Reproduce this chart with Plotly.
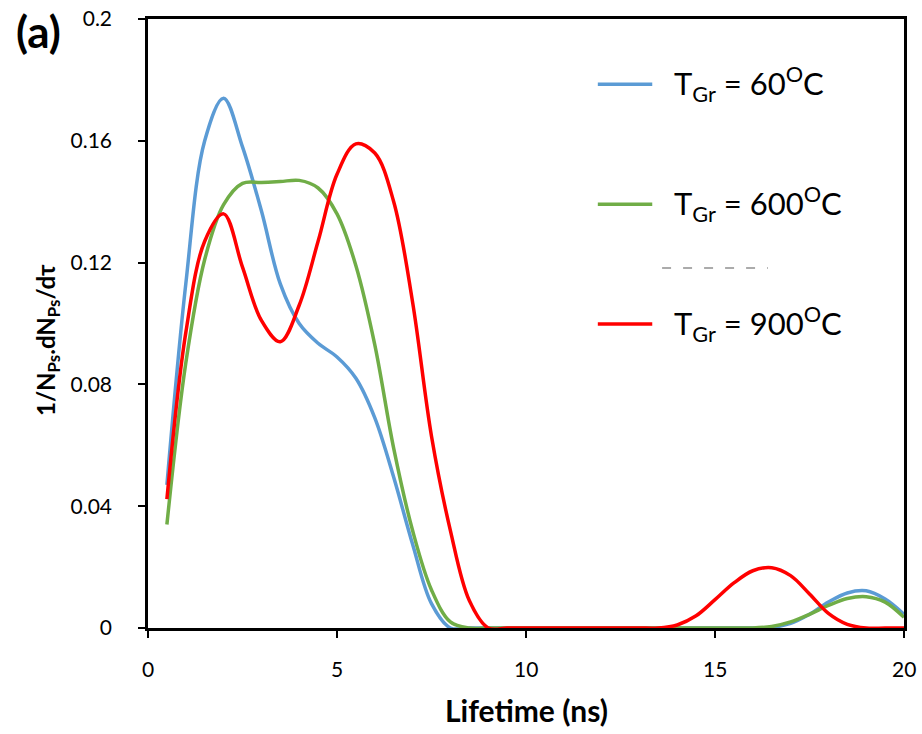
import plotly.graph_objects as go

# Lifetime grid (ns)
lifetime = [0.5, 1.0, 1.5, 2.0, 2.5, 3.0, 3.5, 4.0, 4.5, 5.0,
            5.5, 6.0, 6.5, 7.0, 7.5, 8.0, 8.5, 9.0, 9.5, 10.0,
            10.5, 11.0, 11.5, 12.0, 12.5, 13.0, 13.5, 14.0, 14.5, 15.0,
            15.5, 16.0, 16.5, 17.0, 17.5, 18.0, 18.5, 19.0, 19.5, 20.0]

# Normalised lifetime distributions 1/N_Ps dN_Ps/dtau
t60 = [0.047, 0.113, 0.160, 0.174, 0.158, 0.137, 0.113, 0.100, 0.0935, 0.089,
       0.082, 0.069, 0.0495, 0.0275, 0.008, 0.0, 0.0, 0.0, 0.0, 0.0,
       0.0, 0.0, 0.0, 0.0, 0.0, 0.0, 0.0, 0.0, 0.0, 0.0,
       0.0, 0.0, 0.0002, 0.0015, 0.0045, 0.0085, 0.0115, 0.0122, 0.0095, 0.0045]
t600 = [0.034, 0.087, 0.121, 0.139, 0.146, 0.1463, 0.1466, 0.147, 0.1445, 0.136,
        0.119, 0.093, 0.059, 0.032, 0.0125, 0.002, 0.0, 0.0, 0.0, 0.0,
        0.0, 0.0, 0.0, 0.0, 0.0, 0.0, 0.0, 0.0, 0.0, 0.0,
        0.0, 0.0, 0.0005, 0.002, 0.0045, 0.0074, 0.0097, 0.0103, 0.0085, 0.0035]
t900 = [0.0423, 0.097, 0.127, 0.136, 0.1185, 0.101, 0.094, 0.106, 0.127, 0.149,
        0.159, 0.156, 0.140, 0.107, 0.063, 0.032, 0.009, 0.0, 0.0, 0.0,
        0.0, 0.0, 0.0, 0.0, 0.0, 0.0, 0.0, 0.001, 0.004, 0.0093,
        0.0148, 0.0188, 0.0198, 0.0172, 0.0112, 0.0048, 0.0012, 0.0, 0.0, 0.0]

series = [t60, t600, t900]
names = ["T<sub>Gr</sub> = 60<sup>O</sup>C",
         "T<sub>Gr</sub> = 600<sup>O</sup>C",
         "T<sub>Gr</sub> = 900<sup>O</sup>C"]
colors = ["#5B9BD5", "#70AD47", "#FF0000"]

x_ticks = [0, 5, 10, 15, 20]
x_ticktext = ["0", "5", "10", "15", "20"]
y_ticks = [0, 0.04, 0.08, 0.12, 0.16, 0.2]
y_ticktext = ["0", "0.04", "0.08", "0.12", "0.16", "0.2"]

FONT = "Lato"

fig = go.Figure()
for ys, name, col in zip(series, names, colors):
    fig.add_trace(go.Scatter(x=lifetime, y=ys, mode="lines", name=name,
                             line=dict(color=col, width=3.5, shape="spline", smoothing=1.0),
                             showlegend=False))

# Hand-placed legend: sample line + label for each series
legend_y = [0.893, 0.696, 0.499]
for ly, name, col in zip(legend_y, names, colors):
    fig.add_shape(type="line", xref="paper", yref="paper",
                  x0=0.595, x1=0.667, y0=ly, y1=ly,
                  line=dict(color=col, width=3.5))
    fig.add_annotation(xref="paper", yref="paper", x=0.693, y=ly,
                       xanchor="left", yanchor="middle", showarrow=False,
                       text=name, font=dict(family=FONT, size=31, color="black"))

# faint dashed remnant between the 600 and 900 entries
fig.add_shape(type="line", xref="paper", yref="paper",
              x0=0.680, x1=0.820, y0=0.591, y1=0.591,
              line=dict(color="#909090", width=1.5, dash="9px,12px"))

# panel label
fig.add_annotation(xref="paper", yref="paper", x=(38 - 148) / 756, y=(628 - 31) / 609,
                   xanchor="center", yanchor="middle", showarrow=False,
                   text="<b>(a)</b>", font=dict(family=FONT, size=44, color="black"))

# x tick labels set further below the axis than plotly's default offset
for xv, xt in zip(x_ticks, x_ticktext):
    fig.add_annotation(xref="x", yref="paper", x=xv, y=(628 - 668) / 609,
                       xanchor="center", yanchor="middle", showarrow=False,
                       text=xt, font=dict(family=FONT, size=21, color="black"))

# axis titles
fig.add_annotation(xref="paper", yref="paper", x=(47 - 148) / 756, y=(628 - 340) / 609,
                   xanchor="center", yanchor="middle", showarrow=False, textangle=-90,
                   text="<b>1/N<sub>Ps</sub>.dN<sub>Ps</sub>/dτ</b>",
                   font=dict(family=FONT, size=24, color="black"))
fig.add_annotation(xref="paper", yref="paper", x=(526 - 148) / 756, y=(628 - 710) / 609,
                   xanchor="center", yanchor="middle", showarrow=False,
                   text="<b>Lifetime (ns)</b>",
                   font=dict(family=FONT, size=30, color="black"))

fig.update_layout(
    width=922, height=734,
    margin=dict(l=148, r=18, t=19, b=106, autoexpand=False),
    paper_bgcolor="white", plot_bgcolor="white",
    font=dict(family=FONT, size=21, color="black"),
    xaxis=dict(range=[0, 20], tickvals=x_ticks, showticklabels=False,
               showgrid=False, zeroline=False,
               showline=True, linecolor="black", linewidth=2.5, mirror=True,
               ticks="outside", ticklen=7, tickwidth=2, tickcolor="black",
               automargin=False),
    yaxis=dict(range=[0, 0.2], tickvals=y_ticks, ticktext=y_ticktext, showgrid=False,
               zeroline=False, showline=True, linecolor="black", linewidth=2.5, mirror=True,
               ticks="outside", ticklen=7, tickwidth=2, tickcolor="black",
               ticklabelstandoff=22, automargin=False),
)

fig.write_html("out.html")
